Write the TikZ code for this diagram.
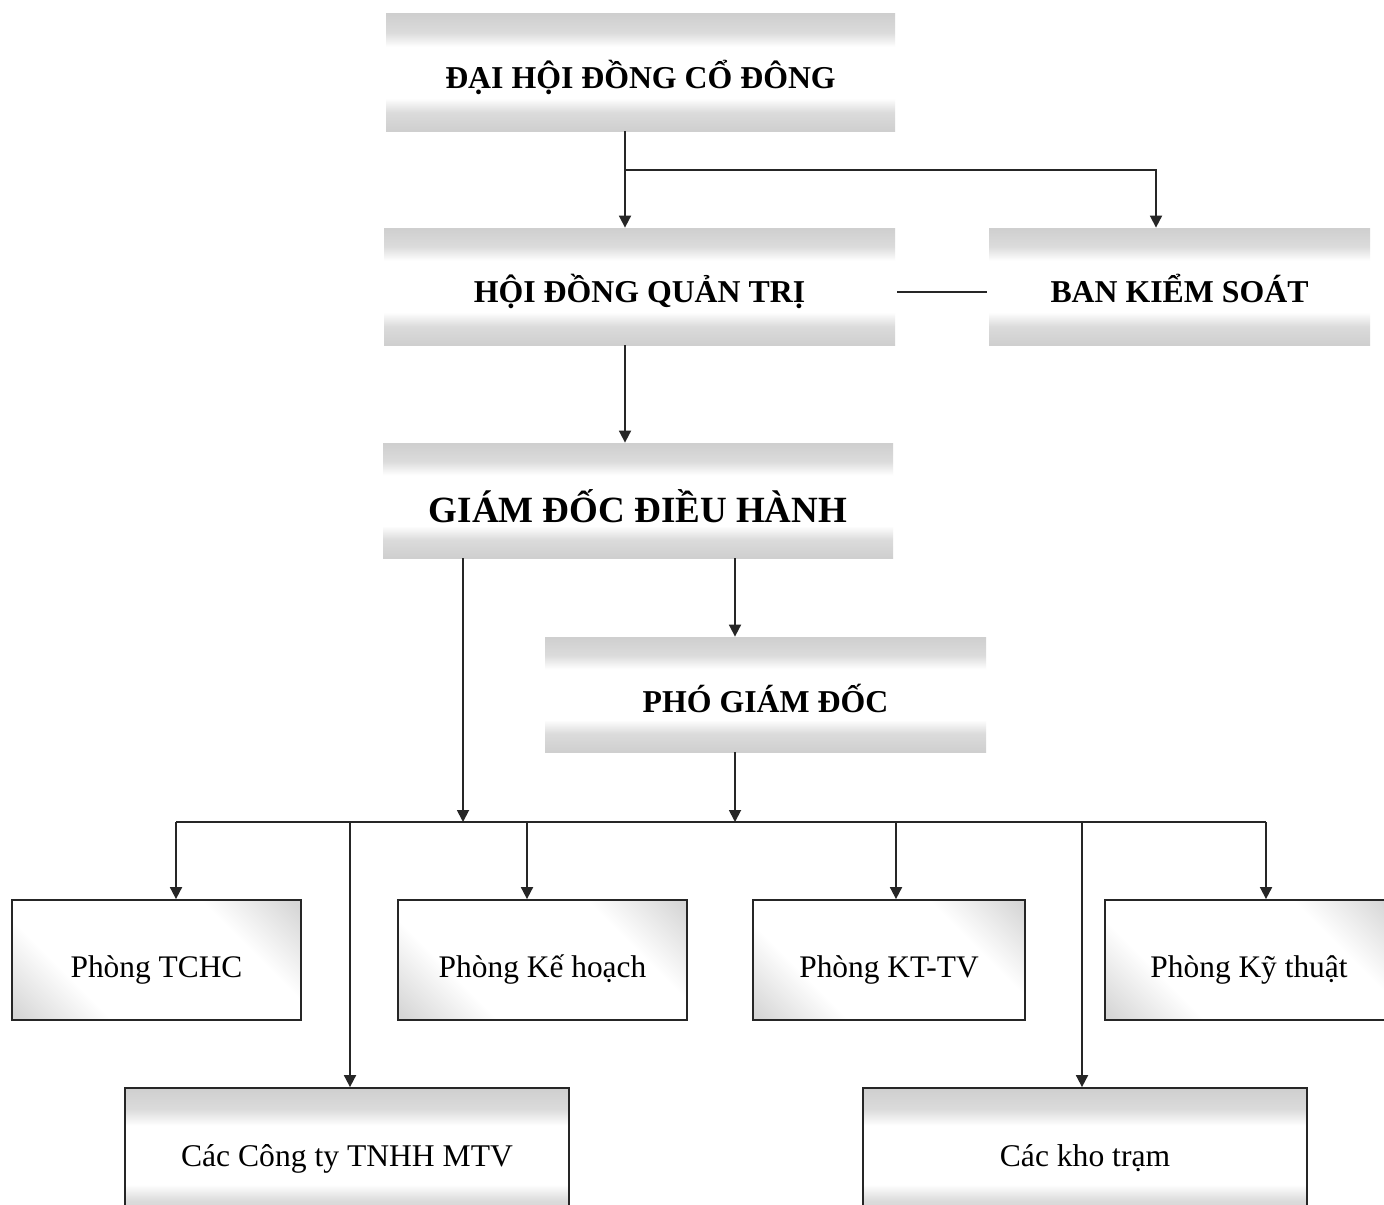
\documentclass[tikz,border=0pt]{standalone}
\usepackage{fontspec}
\setmainfont{Liberation Serif}
\usetikzlibrary{arrows.meta}
\pgfdeclareverticalshading{bandshade}{100bp}{color(0bp)=(gray!38); color(25bp)=(gray!38); color(33bp)=(gray!28); color(39bp)=(white); color(61bp)=(white); color(67bp)=(gray!28); color(75bp)=(gray!38); color(100bp)=(gray!38)}
\pgfdeclareverticalshading{cornershade}{100bp}{color(0bp)=(gray!40); color(16bp)=(gray!32); color(32bp)=(white); color(68bp)=(white); color(84bp)=(gray!32); color(100bp)=(gray!40)}
\begin{document}
\begin{tikzpicture}[x=0.5pt,y=-0.5pt,
  bandbox/.style={rectangle, inner sep=0pt, align=center,
    font=\fontsize{15.9}{18}\selectfont\bfseries, text height=18pt, text depth=2pt,
    path picture={\shade[shading=bandshade] (path picture bounding box.south west) rectangle (path picture bounding box.north east);}},
  framebandbox/.style={rectangle, draw=black!85, line width=0.9pt, inner sep=0pt,
    font=\fontsize{15.8}{18}\selectfont, text height=13pt, text depth=2pt,
    path picture={\shade[shading=bandshade] (path picture bounding box.south west) rectangle (path picture bounding box.north east);}},
  deptbox/.style={rectangle, draw=black!85, line width=0.9pt, inner sep=0pt,
    minimum height=60pt, font=\fontsize{15.7}{18}\selectfont, text height=19pt, text depth=2pt,
    path picture={\shade[shading=cornershade, shading angle=-45] (path picture bounding box.south west) rectangle (path picture bounding box.north east);}},
  conn/.style={line width=0.9pt, black!85},
  arr/.style={conn, -{Triangle[length=6pt,width=6pt]}}
]
\useasboundingbox (0,0) rectangle (1384,1204);
\fill[white] (0,0) rectangle (1384,1204);
\clip (0,0) rectangle (1384,1204);

% top boxes
\node[bandbox, minimum width=254.5pt, minimum height=58.5pt] (dhd) at (640.5,72.5) {ĐẠI HỘI ĐỒNG CỔ ĐÔNG};
\node[bandbox, minimum width=255.5pt, minimum height=58.5pt] (hdqt) at (639.5,286.5) {HỘI ĐỒNG QUẢN TRỊ};
\node[bandbox, minimum width=190.5pt, minimum height=58.5pt] (bks) at (1179.5,286.5) {BAN KIỂM SOÁT};
\node[bandbox, minimum width=255pt, minimum height=57.5pt, font=\fontsize{18.5}{21}\selectfont\bfseries, text height=23.7pt] (gd) at (638,500.5) {GIÁM ĐỐC ĐIỀU HÀNH};
\node[bandbox, minimum width=220.5pt, minimum height=57.5pt, text height=20pt] (pgd) at (765.5,694.5) {PHÓ GIÁM ĐỐC};

% departments
\node[deptbox, minimum width=144.5pt] (tchc) at (156.5,960) {Phòng TCHC};
\node[deptbox, minimum width=144.5pt] (kh) at (542.5,960) {Phòng Kế hoạch};
\node[deptbox, minimum width=136pt] (kttv) at (889,960) {Phòng KT-TV};
\node[deptbox, minimum width=144pt] (kyt) at (1249,960) {Phòng Kỹ thuật};
\node[framebandbox, minimum width=222pt, minimum height=67pt] (cty) at (347,1155) {Các Công ty TNHH MTV};
\node[framebandbox, minimum width=222pt, minimum height=67pt] (kho) at (1085,1155) {Các kho trạm};

% coordinates
\coordinate (j1) at (625,170);
\coordinate (j2) at (1156,170);
\coordinate (gdx) at (463,822);
\coordinate (pgx) at (735,822);
\coordinate (b1) at (176,822);
\coordinate (b2) at (350,822);
\coordinate (b3) at (527,822);
\coordinate (b4) at (896,822);
\coordinate (b5) at (1082,822);
\coordinate (b6) at (1266,822);

% connectors
\draw[arr] (dhd.south -| j1) -- (hdqt.north -| j1);
\draw[arr] (j1) -- (j2) -- (bks.north -| j2);
\draw[conn] ([xshift=1pt,yshift=-2.75pt]hdqt.east) -- ([xshift=-1pt,yshift=-2.75pt]bks.west);
\draw[arr] (hdqt.south -| j1) -- (gd.north -| j1);
\draw[arr] (gd.south -| gdx) -- (gdx);
\draw[arr] (gd.south -| pgx) -- (pgd.north -| pgx);
\draw[arr] (pgd.south -| pgx) -- (pgx);
\draw[conn] (b1) -- (b6);
\draw[arr] (b1) -- (tchc.north -| b1);
\draw[arr] (b2) -- (cty.north -| b2);
\draw[arr] (b3) -- (kh.north -| b3);
\draw[arr] (b4) -- (kttv.north -| b4);
\draw[arr] (b5) -- (kho.north -| b5);
\draw[arr] (b6) -- (kyt.north -| b6);
\end{tikzpicture}
\end{document}
